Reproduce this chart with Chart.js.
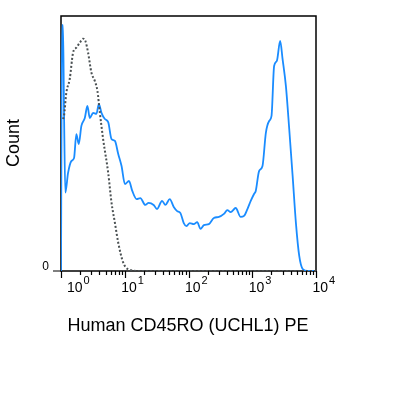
<!DOCTYPE html>
<html>
<head>
<meta charset="utf-8">
<script src="https://cdn.jsdelivr.net/npm/chart.js@4.4.1/dist/chart.umd.min.js"></script>
<style>
  body { margin: 0; background: #fff; }
  #wrap { width: 415px; height: 395px; }
</style>
</head>
<body>
<div id="wrap"><canvas id="histChart" width="415" height="395"></canvas></div>
<script>
// stained sample, fluorescence (x) and count in % of max (y)
const cd45roX = [1, 1.037, 1.075, 1.115, 1.169, 1.289, 1.452, 1.602, 1.741, 1.9,
  2.088, 2.363, 2.594, 2.831, 3.19, 3.595, 3.923, 4.313, 4.877, 5.5,
  6.19, 7.01, 7.9, 8.91, 10.07, 11.65, 13.12, 15.34, 17.55, 21.0,
  23.7, 28.4, 32.1, 38.5, 43.4, 50.8, 58.7, 66.4, 74.8, 84.3,
  93, 104.8, 121.1, 137, 154.5, 174.2, 208.8, 250.3, 300.1, 359.6,
  406.6, 458.6, 549.7, 658.8, 742.9, 839.9, 946.8, 1067, 1135, 1279,
  1448, 1633, 1841, 2006, 2203, 2431, 2740, 2991, 3373, 3802,
  4299, 4843, 5459, 6180, 7400, 10000];
const cd45roCount = [0, 96.4, 96.4, 62.7, 30.7, 38.4, 43.1, 44.3, 53.7, 49.8,
  56.9, 60.0, 64.7, 60.0, 62.0, 61.6, 65.5, 62.0, 59.6, 58.4,
  51.8, 51.0, 45.9, 41.2, 34.1, 35.3, 31.4, 28.2, 28.6, 25.9,
  26.7, 25.9, 24.3, 27.5, 25.9, 28.2, 25.1, 23.5, 22.7, 18.8,
  17.6, 18.8, 18.4, 19.2, 16.5, 18.0, 18.4, 20.8, 21.2, 22.4,
  23.9, 23.1, 24.7, 21.2, 21.6, 24.3, 27.5, 30.2, 31.4, 39.2,
  41.2, 54.1, 58.8, 60.8, 80.4, 82.4, 90.2, 83.1, 72.5, 55.7,
  37.3, 18.8, 5.9, 0.8, 0, 0];

// isotype control (dotted)
const isotypeX = [1.075, 1.115, 1.212, 1.371, 1.545, 1.741, 1.969, 2.22, 2.414, 2.662,
  3.0, 3.394, 3.73, 4.068, 4.585, 5.5, 6.2, 7.01, 7.9, 9.47,
  11.35, 17.5, 10000];
const isotypeCount = [59.6, 60.8, 69.9, 75.3, 85.6, 87.6, 89.5, 91.1, 90.2, 85.6,
  77.8, 74.5, 70.6, 62.1, 51.6, 38.5, 26.8, 18.9, 11.1, 3.3,
  0.7, 0, 0];

const decadeExponents = [0, 1, 2, 3, 4];
const minorSteps = [2, 3, 4, 5, 6, 7, 8, 9];
const yTickLabels = ['0'];
const xTitle = 'Human CD45RO (UCHL1) PE';
const yTitle = 'Count';

const FONT = "'Liberation Sans', Arial, sans-serif";

function toPoints(xs, ys) {
  return xs.map((x, i) => ({ x: x, y: ys[i] }));
}

// frame, ticks and labels drawn by hand so the exponents can be raised
const axisDecor = {
  id: 'axisDecor',
  beforeDatasetsDraw(chart) {
    const ctx = chart.ctx;
    const a = chart.chartArea;
    const xs = chart.scales.x;
    ctx.save();
    ctx.strokeStyle = '#000';
    ctx.lineWidth = 1.5;
    ctx.strokeRect(a.left, a.top, a.right - a.left, a.bottom - a.top);

    ctx.lineWidth = 1.2;
    ctx.beginPath();
    decadeExponents.forEach(e => {
      const px = Math.round(xs.getPixelForValue(Math.pow(10, e))) + 0.5;
      ctx.moveTo(px, a.bottom);
      ctx.lineTo(px, a.bottom + 7);
      if (e < 4) {
        minorSteps.forEach(m => {
          const mx = Math.round(xs.getPixelForValue(m * Math.pow(10, e))) + 0.5;
          ctx.moveTo(mx, a.bottom);
          ctx.lineTo(mx, a.bottom + 4);
        });
      }
    });
    // y tick at 0
    ctx.moveTo(a.left - 8, a.bottom);
    ctx.lineTo(a.left, a.bottom);
    ctx.stroke();
    ctx.restore();
  },
  afterDraw(chart) {
    const ctx = chart.ctx;
    const a = chart.chartArea;
    const xs = chart.scales.x;
    ctx.save();
    ctx.fillStyle = '#000';
    ctx.textAlign = 'left';
    ctx.textBaseline = 'alphabetic';

    decadeExponents.forEach(e => {
      const px = xs.getPixelForValue(Math.pow(10, e));
      const left = e === 0 ? px + 6 : px - 3.5;
      ctx.font = '14px ' + FONT;
      ctx.fillText('10', left, a.bottom + 21);
      const w = ctx.measureText('10').width;
      ctx.font = '11px ' + FONT;
      ctx.fillText(String(e), left + w + 1, a.bottom + 13);
    });

    ctx.font = '12px ' + FONT;
    ctx.textAlign = 'right';
    ctx.fillText(yTickLabels[0], a.left - 12, a.bottom - 1);

    ctx.font = '18px ' + FONT;
    ctx.textAlign = 'center';
    ctx.fillText(xTitle, 188, a.bottom + 60);

    ctx.translate(19, 143);
    ctx.rotate(-Math.PI / 2);
    ctx.fillText(yTitle, 0, 0);
    ctx.restore();
  }
};

window.onload = function() {
  const ctx = document.getElementById('histChart').getContext('2d');
  new Chart(ctx, {
    type: 'line',
    data: {
      datasets: [
        {
          label: 'Isotype',
          data: toPoints(isotypeX, isotypeCount),
          borderColor: '#4b5153',
          borderWidth: 2,
          borderDash: [2, 2],
          pointRadius: 0,
          fill: false,
          cubicInterpolationMode: 'monotone',
          order: 0
        },
        {
          label: 'CD45RO',
          data: toPoints(cd45roX, cd45roCount),
          borderColor: '#1a8cff',
          borderWidth: 1.8,
          pointRadius: 0,
          fill: false,
          cubicInterpolationMode: 'monotone',
          order: 1
        }
      ]
    },
    options: {
      responsive: false,
      animation: false,
      devicePixelRatio: 1,
      layout: { padding: { left: 61, right: 99, top: 16, bottom: 124 } },
      plugins: {
        legend: { display: false },
        tooltip: { enabled: false }
      },
      scales: {
        x: { type: 'logarithmic', min: 1, max: 10000, display: false },
        y: { type: 'linear', min: 0, max: 100, display: false }
      }
    },
    plugins: [axisDecor]
  });
};
</script>
</body>
</html>
